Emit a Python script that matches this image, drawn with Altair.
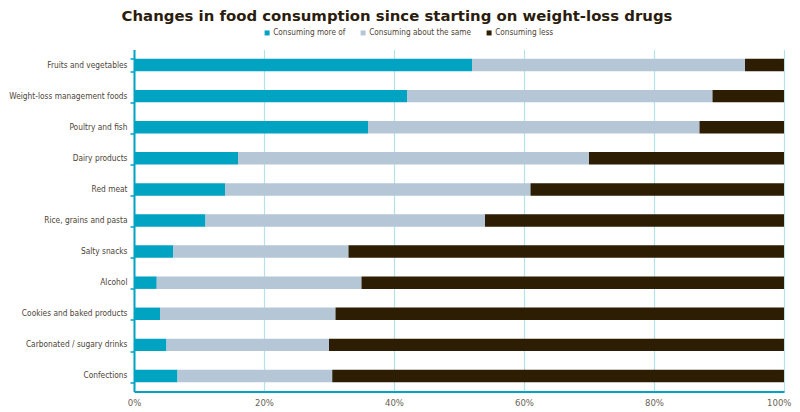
import altair as alt
import pandas as pd

categories = [
    "Fruits and vegetables",
    "Weight-loss management foods",
    "Poultry and fish",
    "Dairy products",
    "Red meat",
    "Rice, grains and pasta",
    "Salty snacks",
    "Alcohol",
    "Cookies and baked products",
    "Carbonated / sugary drinks",
    "Confections",
]
more_of = [52, 42, 36, 16, 14, 11, 6, 3.5, 4, 5, 6.7]
about_same = [42, 47, 51, 54, 47, 43, 27, 31.5, 27, 25, 23.8]
less = [6, 11, 13, 30, 39, 46, 67, 65, 69, 70, 69.5]

series = ["Consuming more of", "Consuming about the same", "Consuming less"]
colors = ["#00a3c1", "#b5c7d7", "#2d1e03"]

rows = []
for i, c in enumerate(categories):
    for k, vals in enumerate([more_of, about_same, less]):
        rows.append({"category": c, "series": series[k], "order": k, "value": vals[i]})
df = pd.DataFrame(rows)

FONT = "DejaVu Sans Condensed, sans-serif"
TEAL = "#00a3c4"

chart = alt.Chart(df).mark_bar().encode(
    y=alt.Y("category:N", sort=categories, title=None,
            scale=alt.Scale(paddingInner=0.6, paddingOuter=0.3),
            axis=alt.Axis(domainColor=TEAL, domainWidth=2, ticks=True, tickBand="extent",
                          tickColor=TEAL, tickSize=4, tickWidth=1.5, labelPadding=3,
                          labelFontSize=8.3, labelColor="#4d4538", labelFont=FONT, grid=False,
                          labelLimit=200)),
    x=alt.X("value:Q", stack="zero", title=None,
            scale=alt.Scale(domain=[0, 100], nice=False),
            axis=alt.Axis(values=[0, 20, 40, 60, 80, 100], labelExpr="datum.value + '%'",
                          domainColor=TEAL, domainWidth=2, ticks=False, grid=True,
                          gridColor="#b3e2ec", gridWidth=1.2, labelColor="#6b6355",
                          labelFontSize=9.5, labelFont=FONT, labelPadding=6, labelFlush=False,
                          labelAlign={"condition": {"test": "datum.value == 100", "value": "right"},
                                      "value": "center"},
                          labelOffset={"condition": {"test": "datum.value == 100", "value": 7},
                                       "value": 0})),
    color=alt.Color("series:N", sort=series,
                    scale=alt.Scale(domain=series, range=colors),
                    legend=alt.Legend(title=None, orient="none", direction="horizontal",
                                      legendX=129, legendY=-21, symbolType="square",
                                      symbolSize=25, symbolStrokeWidth=0, labelFont=FONT,
                                      labelFontSize=8.2, labelColor="#4d4538", columnPadding=13,
                                      labelOffset=2, padding=0)),
    order=alt.Order("order:Q"),
).properties(
    width=650,
    height=342,
    autosize=alt.AutoSizeParams(type="none"),
    padding={"left": 126, "top": 41.5, "right": 8, "bottom": 22},
    title=alt.TitleParams(
        "Changes in food consumption since starting on weight-loss drugs",
        font="DejaVu Sans", fontSize=14.9, fontWeight="bold", color="#2b1d0e",
        anchor="middle", dx=-62, offset=5, frame="group",
    ),
).configure_view(strokeWidth=0)

chart.save("out.html", embed_options={"renderer": "svg", "actions": False})
